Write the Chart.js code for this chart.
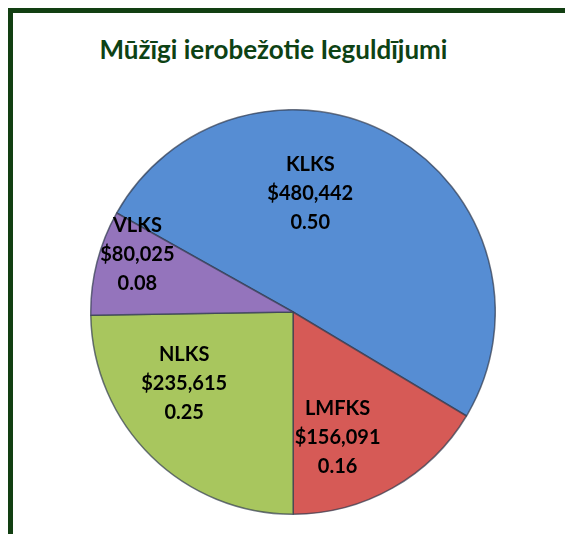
<!DOCTYPE html>
<html>
<head>
<meta charset="utf-8">
<script src="https://cdn.jsdelivr.net/npm/chart.js@4/dist/chart.umd.min.js"></script>
<style>
  body { margin:0; width:565px; height:534px; overflow:hidden; background:#fff; position:relative; }
  #frame { position:absolute; left:8px; top:8px; width:600px; height:600px; border:5px solid #123f12; box-sizing:border-box; }
  #title { position:absolute; left:0; top:33px; width:547px; text-align:center; font-family:Lato, sans-serif; font-weight:bold; font-size:26px; color:#0d4214; }
  #pieChart { position:absolute; left:90px; top:109px; }
</style>
</head>
<body>
<div id="frame"></div>
<div id="title">Mūžīgi ierobežotie Ieguldījumi</div>
<canvas id="pieChart" width="406" height="406"></canvas>
<script>
// dati no attēla
const labels = ['KLKS', 'LMFKS', 'NLKS', 'VLKS'];
const amounts = [480442, 156091, 235615, 80025];
const colors = ['rgb(86,141,211)', 'rgb(214,90,86)', 'rgb(168,198,94)', 'rgb(148,116,188)'];
// kur uzlikt tekstu katrā daļā: daļa no leņķa, daļa no rādiusa
const labelSpot = [[0.38, 0.59], [0.67, 0.66], [0.635, 0.645], [0.70, 0.82]];

const total = amounts.reduce((a, b) => a + b, 0);

const sliceText = {
    id: 'sliceText',
    afterDatasetsDraw(chart) {
        const ctx = chart.ctx;
        const arcs = chart.getDatasetMeta(0).data;
        ctx.save();
        ctx.font = 'bold 20px Lato, sans-serif';
        ctx.fillStyle = '#000';
        ctx.textAlign = 'center';
        ctx.textBaseline = 'middle';
        arcs.forEach(function(arc, i) {
            const p = arc.getProps(['x', 'y', 'startAngle', 'endAngle', 'outerRadius'], true);
            const a = p.startAngle + labelSpot[i][0] * (p.endAngle - p.startAngle);
            const r = labelSpot[i][1] * p.outerRadius;
            const cx = p.x + Math.cos(a) * r;
            const cy = p.y + Math.sin(a) * r;
            const lines = [labels[i], '$' + amounts[i].toLocaleString('en-US'), (amounts[i] / total).toFixed(2)];
            lines.forEach(function(t, k) {
                ctx.fillText(t, cx, cy + (k - 1) * 29);
            });
        });
        ctx.restore();
    }
};

const chart = new Chart(document.getElementById('pieChart'), {
    type: 'pie',
    data: {
        labels: labels,
        datasets: [{
            data: amounts,
            backgroundColor: colors,
            borderColor: 'rgba(50,60,80,0.7)',
            borderWidth: 1.5
        }]
    },
    options: {
        responsive: false,
        animation: false,
        rotation: -60.7,
        layout: { padding: 0 },
        plugins: {
            legend: { display: false },
            tooltip: { enabled: false }
        }
    },
    plugins: [sliceText]
});
</script>
</body>
</html>
